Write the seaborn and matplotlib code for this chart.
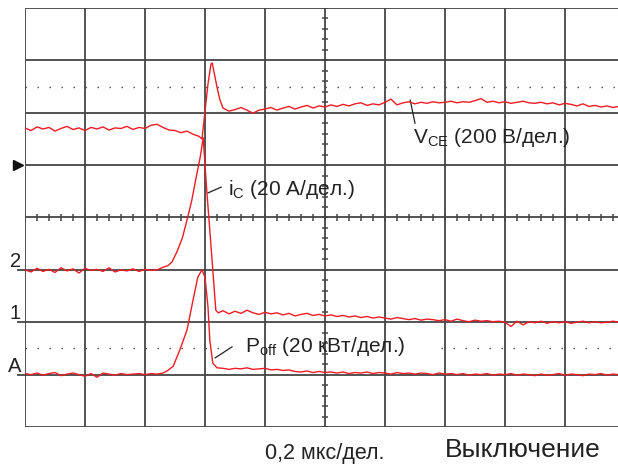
import matplotlib
matplotlib.use("Agg")
import matplotlib.pyplot as plt
import seaborn as sns
import pandas as pd

# ---------------- data (divisions: x 0..10, y 0..8 from bottom) ----------------
T_LEFT = [0.0, 0.1, 0.2, 0.3, 0.4, 0.5, 0.6, 0.7, 0.8, 0.9, 1.0, 1.1, 1.2, 1.3, 1.4,
          1.5, 1.6, 1.7, 1.8, 1.9, 2.0, 2.1, 2.2]
T_RIGHT = [3.3, 3.4, 3.5, 3.6, 3.7, 3.8, 3.9, 4.0, 4.1, 4.2, 4.3, 4.4, 4.5, 4.6, 4.7,
           4.8, 4.9, 5.0, 5.1, 5.2, 5.3, 5.4, 5.5, 5.6, 5.7, 5.8, 5.9, 6.0, 6.1, 6.2,
           6.3, 6.4, 6.5, 6.6, 6.7, 6.8, 6.9, 7.0, 7.1, 7.2, 7.3, 7.4, 7.5, 7.6, 7.7,
           7.8, 7.9, 8.0, 8.1, 8.2, 8.3, 8.4, 8.5, 8.6, 8.7, 8.8, 8.9, 9.0, 9.1, 9.2,
           9.3, 9.4, 9.5, 9.6, 9.7, 9.8, 9.9]

vce_t_mid = [2.3, 2.4, 2.5, 2.6, 2.7, 2.8, 2.9, 2.95, 3.0, 3.05, 3.1, 3.12, 3.15, 3.2, 3.25]
vce_left = [5.71, 5.66, 5.73, 5.69, 5.72, 5.65, 5.70, 5.74, 5.68, 5.71, 5.66, 5.72, 5.69,
            5.73, 5.67, 5.71, 5.70, 5.74, 5.68, 5.72, 5.70, 5.76, 5.78]
vce_mid = [5.72, 5.67, 5.66, 5.62, 5.65, 5.59, 5.55, 5.50, 6.03, 6.55, 6.93, 6.95, 6.78,
           6.49, 6.24]
vce_right = [6.09, 6.03, 6.06, 6.10, 6.05, 5.99, 6.05,
             6.07, 6.10, 6.05, 6.09, 6.12, 6.07, 6.11, 6.14, 6.09, 6.13,
             6.11, 6.15, 6.12, 6.16, 6.13, 6.17, 6.19, 6.14, 6.17, 6.15,
             6.20, 6.26, 6.15, 6.19, 6.21, 6.17, 6.20, 6.18, 6.21, 6.19,
             6.20, 6.22, 6.19, 6.21, 6.20, 6.23, 6.27, 6.20, 6.22, 6.19,
             6.21, 6.18, 6.20, 6.22, 6.19, 6.18, 6.20, 6.17, 6.19, 6.15,
             6.18, 6.16, 6.13, 6.17, 6.12, 6.14, 6.11, 6.13, 6.10, 6.12]

ic_t_mid = [2.3, 2.38, 2.45, 2.53, 2.62, 2.7, 2.78, 2.85, 2.92, 2.97, 3.03, 3.08, 3.13,
            3.18, 3.22]
ic_left = [3.00, 2.96, 3.03, 2.97, 3.01, 2.95, 3.04, 2.98, 3.02, 2.94, 3.03, 2.99, 3.01,
           2.97, 3.04, 2.96, 3.00, 2.98, 3.02, 2.97, 3.01, 2.99, 3.00]
ic_mid = [3.05, 3.08, 3.15, 3.34, 3.60, 3.95, 4.33, 4.75, 5.15, 5.52, 4.50, 3.76, 3.00,
          2.23, 2.18]
ic_right = [2.22, 2.16, 2.21, 2.17, 2.23, 2.18, 2.15,
            2.19, 2.16, 2.18, 2.14, 2.17, 2.12, 2.15, 2.17, 2.13, 2.15,
            2.12, 2.14, 2.11, 2.13, 2.10, 2.12, 2.09, 2.11, 2.08, 2.10,
            2.08, 2.06, 2.09, 2.07, 2.05, 2.07, 2.04, 2.06, 2.05, 2.03,
            2.05, 2.02, 2.06, 2.03, 2.01, 2.04, 2.02, 2.03, 2.01, 2.02,
            2.00, 1.92, 2.02, 1.95, 2.01, 1.99, 2.02, 1.98, 2.01, 1.99,
            2.01, 1.98, 2.00, 2.02, 1.99, 2.01, 1.99, 2.00, 2.02, 2.00]

poff_t_mid = [2.3, 2.38, 2.47, 2.58, 2.7, 2.8, 2.88, 2.95, 3.0, 3.05, 3.08, 3.13, 3.2]
poff_left = [1.02, 1.00, 1.03, 0.99, 1.02, 1.04, 0.98, 1.01, 1.03, 1.00, 0.97, 1.02,
             0.95, 1.03, 1.01, 0.99, 1.02, 1.00, 1.01, 1.02, 1.00, 1.02, 1.01]
poff_mid = [1.03, 1.08, 1.16, 1.47, 1.85, 2.42, 2.86, 3.00, 2.86, 2.29, 1.66, 1.22, 1.13]
poff_right = [1.12, 1.10, 1.12, 1.11, 1.13, 1.10, 1.11,
              1.12, 1.09, 1.10, 1.08, 1.09, 1.06, 1.05, 1.07, 1.04, 1.06,
              1.04, 1.05, 1.03, 1.05, 1.02, 1.04, 1.03, 1.05, 1.02, 1.04,
              1.03, 1.01, 1.04, 1.02, 1.03, 1.01, 1.03, 1.02, 1.00, 1.03,
              1.01, 1.02, 1.00, 1.02, 0.99, 1.01, 1.00, 1.02, 0.99, 1.01,
              1.00, 1.02, 0.99, 1.01, 1.00, 0.98, 1.01, 0.99, 1.00, 1.02,
              0.99, 1.01, 1.00, 0.98, 1.01, 1.00, 1.02, 0.99, 1.01, 1.00]

level_labels = ["2", "1", "A"]
level_values = [3, 2, 1]
marker_level = 5

# ---------------- style ----------------
RED = "#ec1c24"
GRID = "#454545"
plt.rcParams["font.family"] = ["Liberation Sans", "DejaVu Sans"]

fig = plt.figure(figsize=(6.18, 4.65), dpi=100)
ax = fig.add_axes([25 / 618, 38 / 465, 600 / 618, 419 / 465])
ax.set_xlim(0, 10)
ax.set_ylim(0, 8)
ax.axis("off")

# graticule
for i in range(0, 11):
    ax.axvline(i, color=GRID, lw=1.3, zorder=1)
for j in range(0, 9):
    ax.axhline(j, color=GRID, lw=1.3, zorder=1)
ax.vlines([k * 0.2 for k in range(51)], 4 - 0.06, 4 + 0.06, color=GRID, lw=1.1, zorder=1)
ax.hlines([k * 0.2 for k in range(41)], 5 - 0.05, 5 + 0.05, color=GRID, lw=1.1, zorder=1)
dots = (0, (1.0, 7.64))
ax.hlines(6.5, 0, 10, color=GRID, lw=1.0, linestyles=[dots], zorder=1)
ax.hlines(1.5, 0, 3.33, color=GRID, lw=1.0, linestyles=[dots], zorder=1)
ax.hlines(1.5, 6.93, 10, color=GRID, lw=1.0, linestyles=[dots], zorder=1)

# traces
traces = [
    (T_LEFT + vce_t_mid + T_RIGHT, vce_left + vce_mid + vce_right),
    (T_LEFT + ic_t_mid + T_RIGHT, ic_left + ic_mid + ic_right),
    (T_LEFT + poff_t_mid + T_RIGHT, poff_left + poff_mid + poff_right),
]
for xs, ys in traces:
    df = pd.DataFrame({"t": xs, "v": ys})
    sns.lineplot(data=df, x="t", y="v", ax=ax, color=RED, lw=1.0,
                 estimator=None, sort=False, zorder=3)
ax.axis("off")

# left channel markers
for lab, lv in zip(level_labels, level_values):
    ax.plot([-0.117, 0], [lv, lv], color=GRID, lw=1.3, clip_on=False)
    ax.text(-0.065, lv + 0.055, lab, ha="right", va="baseline", fontsize=14.5,
            color="#222222", clip_on=False)
ax.plot([-0.117], [marker_level], marker=">", ms=7, color="#111111",
        clip_on=False, linestyle="none")

# annotations
TXT = "#222222"
ax.plot([6.42, 6.5], [6.24, 5.80], color=TXT, lw=0.9)
ax.text(6.47, 5.42, "V$_{\\mathregular{CE}}$ (200 В/дел.)", fontsize=15,
        color=TXT, va="baseline", ha="left")
ax.plot([3.05, 3.27], [4.47, 4.58], color=TXT, lw=0.9)
ax.text(3.38, 4.43, "i$_{\\mathregular{C}}$ (20 А/дел.)", fontsize=15,
        color=TXT, va="baseline", ha="left")
ax.plot([3.17, 3.45], [1.32, 1.53], color=TXT, lw=0.9)
ax.text(3.67, 1.43, "P$_{\\mathregular{off}}$ (20 кВт/дел.)", fontsize=15,
        color=TXT, va="baseline", ha="left")

fig.text(265 / 618, 6 / 465, "0,2 мкс/дел.", fontsize=15.5, color=TXT,
         ha="left", va="baseline")
fig.text(445 / 618, 8 / 465, "Выключение", fontsize=19, color=TXT,
         ha="left", va="baseline")

fig.savefig("out.png", dpi=100)
